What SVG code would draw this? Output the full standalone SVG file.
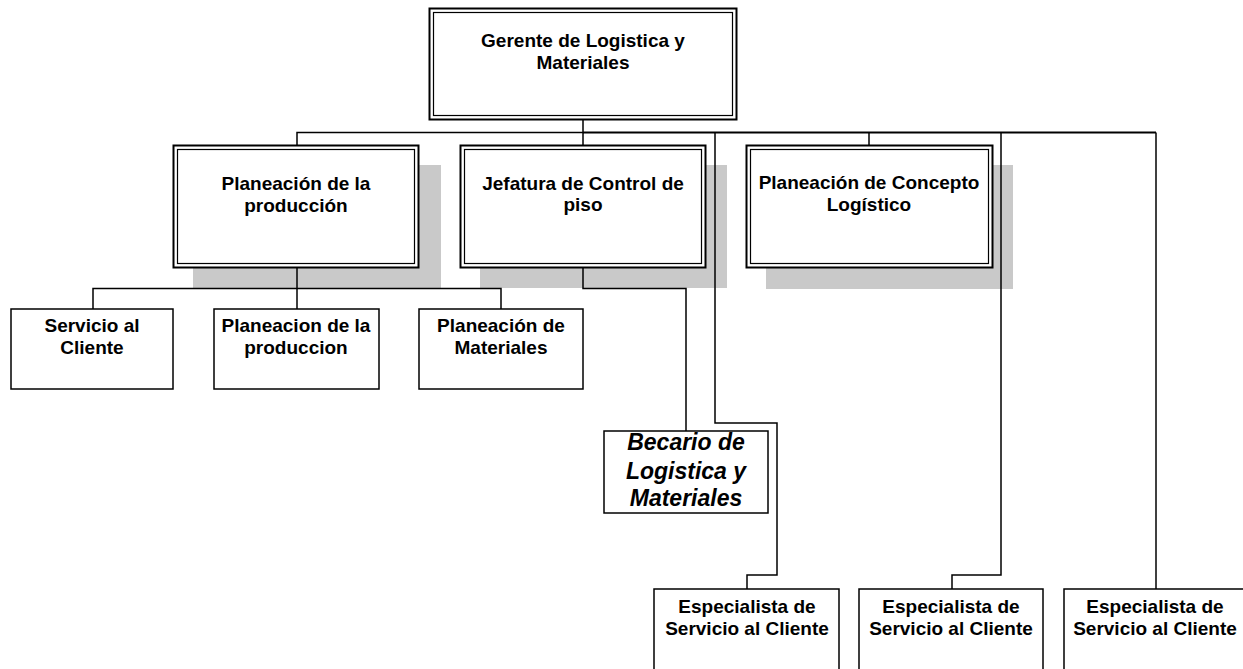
<svg xmlns="http://www.w3.org/2000/svg" width="1243" height="669" viewBox="0 0 1243 669">
<style>
.shadow{fill:#c9c9c9;stroke:none}
.outer{fill:#fff;stroke:#000;stroke-width:2}
.inner{fill:none;stroke:#000;stroke-width:1.2}
.box{fill:#fff;stroke:#000;stroke-width:1.5}
.conn{fill:none;stroke:#000;stroke-width:1.5}
.t{font-family:"Liberation Sans",Arial,sans-serif;font-weight:bold;font-size:19px;fill:#000;text-anchor:middle}
.ti{font-family:"Liberation Sans",Arial,sans-serif;font-weight:bold;font-style:italic;font-size:23px;fill:#000;text-anchor:middle}
</style>
<rect width="1243" height="669" fill="#fff"/>
<g id="shadows">
<rect class="shadow" x="193" y="165" width="248" height="123"/>
<rect class="shadow" x="480" y="165" width="247" height="123"/>
<rect class="shadow" x="766" y="165" width="247" height="124"/>
</g>
<g id="connectors">
<path class="conn" d="M583,120V132.5H297V145"/>
<path class="conn" style="stroke-width:2" d="M583,132.5H1156"/>
<path class="conn" d="M583,132.5V145M869,132.5V145"/>
<path class="conn" d="M715,132.5V423H777V575H747V589"/>
<path class="conn" d="M1001,132.5V575H952V589"/>
<path class="conn" d="M1156,132.5V589"/>
<path class="conn" d="M297,268V309"/>
<path class="conn" d="M93,309V288.5H501V309"/>
<path class="conn" d="M583,268V288.5H686V431"/>
</g>
<g id="gerente">
<rect class="outer" x="429.5" y="8.5" width="307" height="111"/>
<rect class="inner" x="433.5" y="12.5" width="299" height="103"/>
<text class="t" x="583" y="47">Gerente de Logistica y</text>
<text class="t" x="583" y="69">Materiales</text>
</g>
<g id="planeacion-produccion">
<rect class="outer" x="173.5" y="145.5" width="245" height="122"/>
<rect class="inner" x="177.5" y="149.5" width="237" height="114"/>
<text class="t" x="296" y="190">Planeación de la</text>
<text class="t" x="296" y="212">producción</text>
</g>
<g id="jefatura">
<rect class="outer" x="460.5" y="145.5" width="245" height="122"/>
<rect class="inner" x="464.5" y="149.5" width="237" height="114"/>
<text class="t" x="583" y="190">Jefatura de Control de</text>
<text class="t" x="583" y="211">piso</text>
</g>
<g id="concepto">
<rect class="outer" x="746.5" y="145.5" width="246" height="122"/>
<rect class="inner" x="750.5" y="149.5" width="238" height="114"/>
<text class="t" x="869" y="189">Planeación de Concepto</text>
<text class="t" x="869" y="211">Logístico</text>
</g>
<g id="servicio">
<rect class="box" x="11" y="309" width="162" height="80"/>
<text class="t" x="92" y="332">Servicio al</text>
<text class="t" x="92" y="354">Cliente</text>
</g>
<g id="planeacion-produccion-2">
<rect class="box" x="214" y="309" width="165" height="80"/>
<text class="t" x="296" y="332">Planeacion de la</text>
<text class="t" x="296" y="354">produccion</text>
</g>
<g id="planeacion-materiales">
<rect class="box" x="419" y="309" width="164" height="80"/>
<text class="t" x="501" y="332">Planeación de</text>
<text class="t" x="501" y="354">Materiales</text>
</g>
<g id="becario">
<rect class="box" x="604" y="431" width="164" height="82"/>
<text class="ti" x="686" y="450">Becario de</text>
<text class="ti" x="686" y="479">Logistica y</text>
<text class="ti" x="686" y="506">Materiales</text>
</g>
<g id="especialista-1">
<rect class="box" x="654" y="589" width="185" height="90"/>
<text class="t" x="747" y="613">Especialista de</text>
<text class="t" x="747" y="635">Servicio al Cliente</text>
</g>
<g id="especialista-2">
<rect class="box" x="859" y="589" width="184" height="90"/>
<text class="t" x="951" y="613">Especialista de</text>
<text class="t" x="951" y="635">Servicio al Cliente</text>
</g>
<g id="especialista-3">
<rect class="box" x="1064" y="589" width="185" height="90"/>
<text class="t" x="1155" y="613">Especialista de</text>
<text class="t" x="1155" y="635">Servicio al Cliente</text>
</g>
</svg>
